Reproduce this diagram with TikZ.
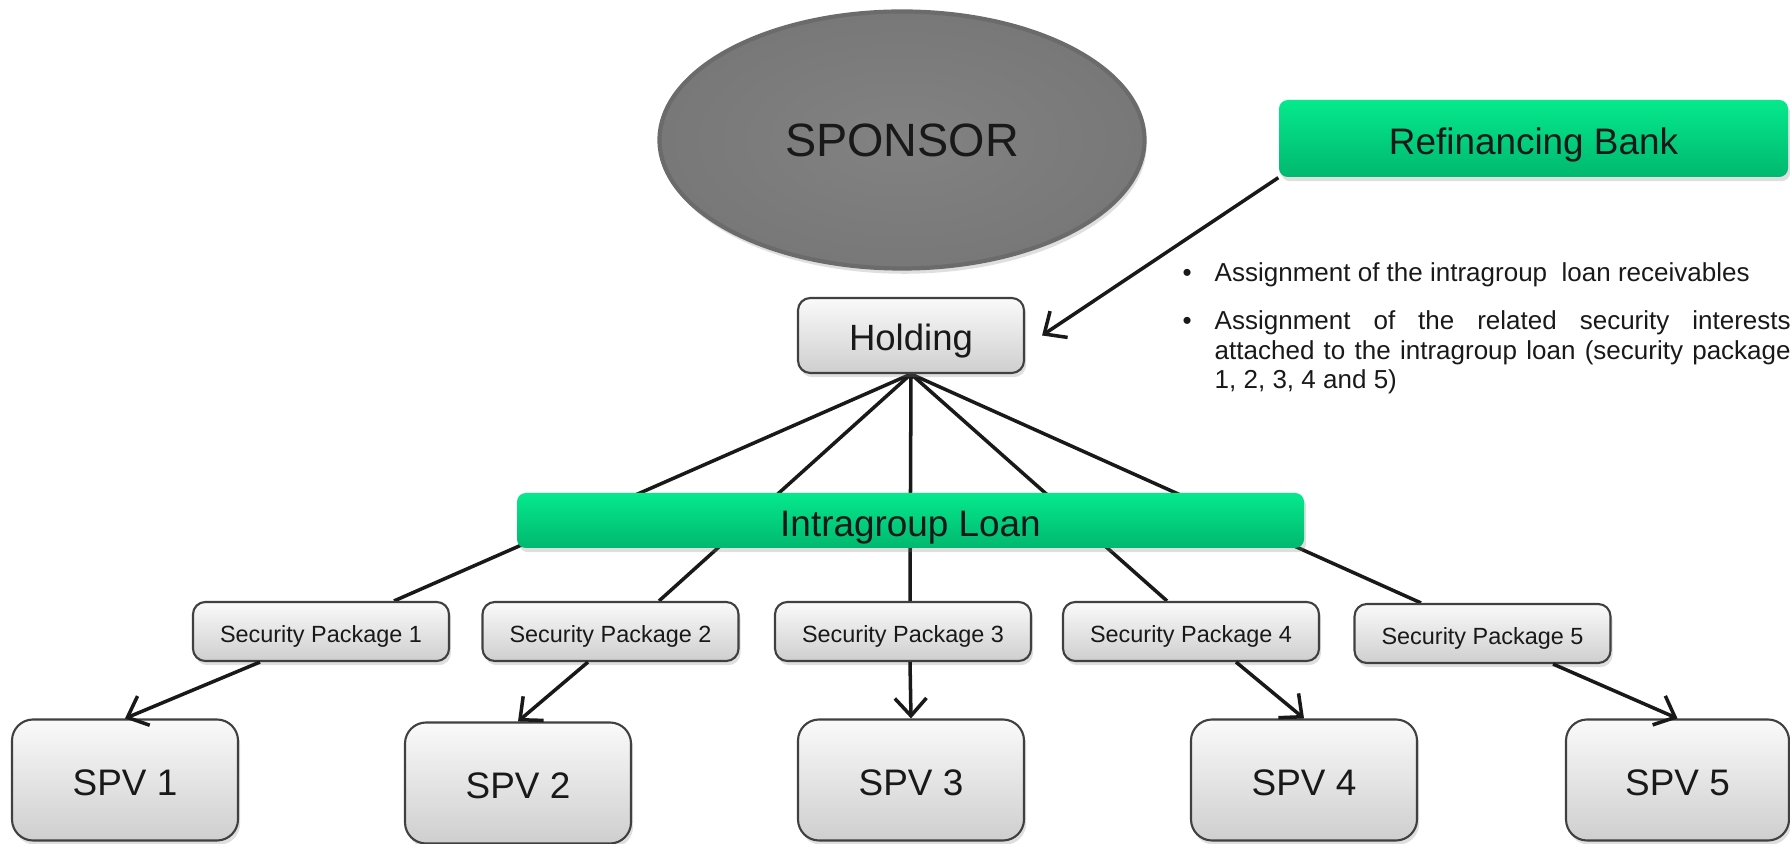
\documentclass[tikz,border=0pt]{standalone}
\usepackage{fontspec}
\setmainfont{Liberation Sans}
\usetikzlibrary{arrows.meta, positioning, shapes.geometric, shadows, backgrounds}
\definecolor{mainBlack}{gray}{0.1}
\definecolor{edgeGray}{gray}{0.25}
\definecolor{sponsorGray}{gray}{0.51}
\definecolor{sponsorRim}{gray}{0.47}
\definecolor{sponsorEdge}{gray}{0.42}
\definecolor{boxTop}{gray}{0.98}
\definecolor{boxBottom}{gray}{0.81}
\definecolor{greenTop}{HTML}{05E98C}
\definecolor{greenBottom}{HTML}{00B86F}

\begin{document}
\begin{tikzpicture}[x=1cm, y=-1cm, >={Straight Barb[length=5pt, width=9pt]},
    link/.style={line width=1pt, mainBlack},
    grayBox/.style={draw=edgeGray, line width=0.6pt, rounded corners=3.5pt,
        top color=boxTop, bottom color=boxBottom, text=mainBlack, inner sep=0pt,
        text height=0.88em, text depth=0pt,
        drop shadow={shadow xshift=0.6pt, shadow yshift=-1.2pt, opacity=0.25}},
    packBox/.style={grayBox, minimum width=2.56cm, minimum height=0.59cm,
        text height=0.62em, font=\fontsize{6.67}{8}\selectfont},
    spvBox/.style={grayBox, rounded corners=6pt, minimum width=2.26cm, minimum height=1.21cm,
        font=\fontsize{10.5}{12}\selectfont},
    greenBox/.style={rounded corners=2.5pt, top color=greenTop, bottom color=greenBottom,
        text=mainBlack, inner sep=0pt, font=\fontsize{10.5}{12}\selectfont,
        text height=0.9em, text depth=0pt,
        drop shadow={shadow xshift=0.6pt, shadow yshift=-1.2pt, opacity=0.25}}]
    \useasboundingbox (0,0) rectangle (17.90,8.44);

    % Top level
    \node[ellipse, minimum width=4.85cm, minimum height=2.57cm, draw=sponsorEdge, line width=1.2pt,
        shading=radial, inner color=sponsorGray, outer color=sponsorRim, text=mainBlack,
        font=\fontsize{13.3}{15}\selectfont,
        drop shadow={shadow xshift=0.6pt, shadow yshift=-1.5pt, opacity=0.25}] (sponsor) at (9.02,1.40) {SPONSOR};
    \node[greenBox, minimum width=5.09cm, minimum height=0.77cm] (bank) at (15.335,1.385) {Refinancing Bank};
    \node[grayBox, minimum width=2.26cm, minimum height=0.75cm,
        font=\fontsize{10.4}{12}\selectfont] (holding) at (9.11,3.355) {Holding};

    % Loan and packages
    \node[greenBox, minimum width=7.87cm, minimum height=0.55cm] (loan) at (9.105,5.205) {Intragroup Loan};
    \node[packBox] (sp1) at (3.21,6.315) {Security Package 1};
    \node[packBox] (sp2) at (6.105,6.315) {Security Package 2};
    \node[packBox] (sp3) at (9.03,6.315) {Security Package 3};
    \node[packBox] (sp4) at (11.91,6.315) {Security Package 4};
    \node[packBox] (sp5) at (14.825,6.335) {Security Package 5};

    % SPVs
    \node[spvBox] (spv1) at (1.25,7.80) {SPV 1};
    \node[spvBox] (spv2) at (5.18,7.83) {SPV 2};
    \node[spvBox] (spv3) at (9.11,7.80) {SPV 3};
    \node[spvBox] (spv4) at (13.04,7.80) {SPV 4};
    \node[spvBox, minimum width=2.23cm] (spv5) at (16.775,7.80) {SPV 5};

    % Assignment notes
    \node[anchor=north west, inner sep=0pt, text width=6.08cm, align=justify, text=mainBlack,
        font=\fontsize{7.4}{8.45}\selectfont] (notes) at (11.82,2.62) {%
        \hangindent=0.32cm\hangafter=1\noindent\makebox[0.32cm][l]{\textbullet}Assignment of the intragroup\ \ loan receivables\par
        \vspace{5.2pt}
        \hangindent=0.32cm\hangafter=1\noindent\makebox[0.32cm][l]{\textbullet}Assignment of the related security interests\linebreak
        attached to the intragroup loan (security package\linebreak
        1, 2, 3, 4 and 5)\par};

    % Connectors
    \draw[link, ->] (bank.south west) -- ([xshift=0.17cm]holding.east);
    \begin{scope}[on background layer]
        \draw[link] (holding.south) -- ([xshift=0.73cm]sp1.north);
        \draw[link] (holding.south) -- ([xshift=0.485cm]sp2.north);
        \draw[link] (holding.south) -- ([xshift=0.07cm]sp3.north);
        \draw[link] (holding.south) -- ([xshift=-0.24cm]sp4.north);
        \draw[link] (holding.south) -- ([xshift=-0.615cm]sp5.north);
    \end{scope}
    \draw[link, ->] ([xshift=-0.61cm]sp1.south) -- (spv1.north);
    \draw[link, ->] ([xshift=-0.225cm]sp2.south) -- (spv2.north);
    \draw[link, ->] ([xshift=0.07cm]sp3.south) -- (spv3.north);
    \draw[link, ->] ([xshift=0.45cm]sp4.south) -- (spv4.north);
    \draw[link, ->] ([xshift=0.705cm]sp5.south) -- (spv5.north);
\end{tikzpicture}
\end{document}
